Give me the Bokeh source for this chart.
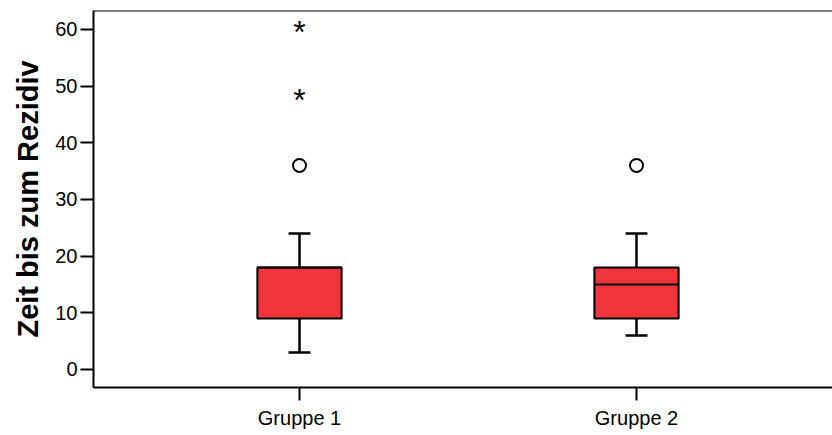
from bokeh.plotting import figure
from bokeh.models import ColumnDataSource, FixedTicker, Span, Range1d
from bokeh.core.properties import value
from bokeh.embed import file_html
from bokeh.resources import INLINE

# ---- data ----
groups = ["Gruppe 1", "Gruppe 2"]
q1 = [9, 9]
medians = [18, 15]
q3 = [18, 18]
whisker_low = [3, 6]
whisker_high = [24, 24]
outlier_group = ["Gruppe 1", "Gruppe 2"]
outlier_values = [36, 36]
extreme_group = ["Gruppe 1", "Gruppe 1"]
extreme_values = [48, 60]
y_ticks = [0, 10, 20, 30, 40, 50, 60]
y_label = "Zeit bis zum Rezidiv"

# ---- style ----
BOX_W = 0.25
CAP_W = 0.065
FILL = "#F0343C"
FONT = "Liberation Sans"
Y_START, Y_END = -3.18, 63.35

pos = {g: i + 1 for i, g in enumerate(groups)}
xs = [pos[g] for g in groups]

box_src = ColumnDataSource(dict(
    x=xs, q1=q1, q3=q3, med=medians, lo=whisker_low, hi=whisker_high,
    bx0=[x - BOX_W / 2 for x in xs], bx1=[x + BOX_W / 2 for x in xs],
    cx0=[x - CAP_W / 2 for x in xs], cx1=[x + CAP_W / 2 for x in xs],
))
out_src = ColumnDataSource(dict(x=[pos[g] for g in outlier_group], y=outlier_values))
ext_src = ColumnDataSource(dict(x=[pos[g] for g in extreme_group], y=extreme_values,
                                t=["*"] * len(extreme_values)))

p = figure(width=832, height=435, output_backend="svg", toolbar_location=None,
           x_range=Range1d(0.3887, 2.5816), y_range=Range1d(Y_START, Y_END),
           min_border_left=93, min_border_top=10, min_border_right=0, min_border_bottom=48)
p.outline_line_color = None
p.xgrid.visible = False
p.ygrid.visible = False

# whiskers
p.segment(x0="x", y0="q3", x1="x", y1="hi", source=box_src, line_color="black", line_width=2.5)
p.segment(x0="x", y0="q1", x1="x", y1="lo", source=box_src, line_color="black", line_width=2.5)
p.segment(x0="cx0", y0="hi", x1="cx1", y1="hi", source=box_src, line_color="black", line_width=2.5)
p.segment(x0="cx0", y0="lo", x1="cx1", y1="lo", source=box_src, line_color="black", line_width=2.5)
# boxes
p.vbar(x="x", bottom="q1", top="q3", width=BOX_W, source=box_src,
       fill_color=FILL, line_color="black", line_width=2)
# medians
p.segment(x0="bx0", y0="med", x1="bx1", y1="med", source=box_src, line_color="black", line_width=2)
# outliers
p.scatter(x="x", y="y", source=out_src, marker="circle", size=13,
          fill_color="white", line_color="black", line_width=2)
p.text(x="x", y="y", text="t", source=ext_src, text_font=value(FONT),
       text_font_size="32px", text_align="center",
       text_baseline="alphabetic", y_offset=3, text_color="black")

# top border line
p.add_layout(Span(location=Y_END, dimension="width", line_color="black", line_width=2))

# axes
for ax in (p.xaxis[0], p.yaxis[0]):
    ax.axis_line_width = 2
    ax.axis_line_color = "black"
    ax.major_tick_line_width = 2
    ax.major_tick_line_color = "black"
    ax.major_tick_in = 0
    ax.major_tick_out = 13
    ax.minor_tick_line_color = None
    ax.major_label_text_font = FONT
    ax.major_label_text_color = "black"

p.xaxis.ticker = FixedTicker(ticks=xs)
p.xaxis.major_label_overrides = {x: g for x, g in zip(xs, groups)}
p.xaxis.major_label_text_font_size = "20px"
p.xaxis.major_label_standoff = 6

p.yaxis.ticker = FixedTicker(ticks=y_ticks)
p.yaxis.major_label_text_font_size = "20px"
p.yaxis.major_label_standoff = 3
p.yaxis.axis_label = y_label
p.yaxis.axis_label_text_font = FONT
p.yaxis.axis_label_text_font_style = "bold"
p.yaxis.axis_label_text_font_size = "29px"
p.yaxis.axis_label_text_color = "black"
p.yaxis.axis_label_standoff = 8

open("out.html", "w").write(file_html(p, INLINE))
